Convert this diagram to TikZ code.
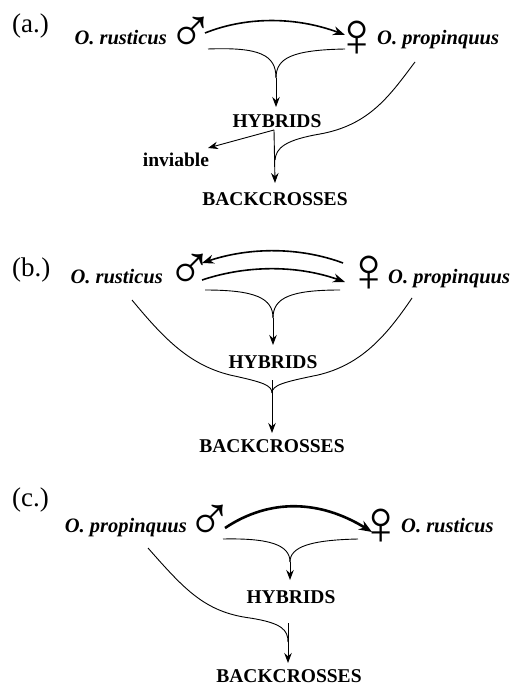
\documentclass[tikz,border=0pt]{standalone}
\usepackage{fontspec}
\setmainfont{Liberation Serif}
\usetikzlibrary{arrows.meta}
\begin{document}
\begin{tikzpicture}[x=1pt,y=-1pt,
  sp/.style={font=\fontsize{20.5}{22}\selectfont\bfseries\itshape, inner sep=0},
  capn/.style={font=\fontsize{19.5}{22}\selectfont\bfseries, inner sep=0, anchor=base},
  lab/.style={font=\fontsize{27}{30}\selectfont, inner sep=0, anchor=base west},
  sx/.style={font=\fontsize{63}{65}\selectfont, inner sep=0, anchor=center},
  ln/.style={line width=0.9pt},
  arr/.style={ln,-{Stealth[length=10pt,width=7.5pt]}},
  harr/.style={line width=1.6pt,-{Stealth[length=12pt,width=9pt]}},
  tarr/.style={line width=2.6pt,-{Stealth[length=13pt,width=10pt]}}
]
\useasboundingbox (0,0) rectangle (511,695);
% ---------- (a.) ----------
\node[lab] (la) at (12,33) {(a.)};
\node[sp, anchor=base east] (ra) at (167,45) {O. rusticus};
\node[sx] (ma) at (191,35) {♂};
\node[sx] (fa) at (357,39) {♀};
\node[sp, anchor=base west] (pa) at (377,45) {O. propinquus};
\node[capn] (ha) at (277,128) {HYBRIDS};
\node[capn] (ia) at (176,166) {inviable};
\node[capn] (ba) at (275,205) {BACKCROSSES};
\coordinate (a1) at (205,33);
\coordinate (a2) at (345,35);
\coordinate (a3) at (208,49);
\coordinate (a4) at (345,49);
\coordinate (aj) at (276,78);
\coordinate (ah) at (276,107);
\coordinate (as) at (274,130);
\coordinate (ai) at (208,148);
\coordinate (ab) at (275,183);
\coordinate (ar) at (415,62);
\coordinate (ak) at (275,160);
\draw[harr] (a1) .. controls (250,15) and (300,18) .. (a2);
\draw[ln] (a3) .. controls (260,47) and (276,55) .. (aj);
\draw[ln] (a4) .. controls (292,50) and (276,58) .. (aj);
\draw[arr] (aj) -- (ah);
\draw[arr] (as) -- (ai);
\draw[arr] (as) -- (ab);
\draw[ln] (ar) .. controls (390,95) and (370,125) .. (320,134) .. controls (285,140) and (276,148) .. (ak);
% ---------- (b.) ----------
\node[lab] (lb) at (12,276) {(b.)};
\node[sp, anchor=base east] (rb) at (163,283) {O. rusticus};
\node[sx] (mb) at (190,272) {♂};
\node[sx] (fb) at (369,274) {♀};
\node[sp, anchor=base west] (pb) at (388,283) {O. propinquus};
\node[capn] (hb) at (273,368) {HYBRIDS};
\node[capn] (bb) at (272,452) {BACKCROSSES};
\coordinate (b1) at (343,263);
\coordinate (b2) at (202,263);
\coordinate (b3) at (202,280);
\coordinate (b4) at (345,282);
\coordinate (b5) at (205,290);
\coordinate (b6) at (340,290);
\coordinate (bj) at (273,318);
\coordinate (bh) at (273,345);
\coordinate (bl) at (132,300);
\coordinate (br) at (412,298);
\coordinate (bt) at (272,380);
\coordinate (bk) at (272,393);
\coordinate (bb2) at (272,433);
\draw[harr] (b1) .. controls (300,247) and (250,247) .. (b2);
\draw[harr] (b3) .. controls (250,264) and (300,266) .. (b4);
\draw[ln] (b5) .. controls (255,290) and (273,298) .. (bj);
\draw[ln] (b6) .. controls (290,290) and (273,298) .. (bj);
\draw[arr] (bj) -- (bh);
\draw[ln] (bl) .. controls (165,340) and (190,365) .. (230,375) .. controls (262,382) and (272,385) .. (bk);
\draw[ln] (br) .. controls (385,338) and (360,365) .. (318,375) .. controls (284,382) and (272,385) .. (bk);
\draw[ln] (bt) -- (bk);
\draw[arr] (bk) -- (bb2);
% ---------- (c.) ----------
\node[lab] (lc) at (12,506) {(c.)};
\node[sp, anchor=base east] (pc) at (187,532) {O. propinquus};
\node[sx] (mc) at (210,523) {♂};
\node[sx] (fc) at (381,527) {♀};
\node[sp, anchor=base west] (rc) at (401,532) {O. rusticus};
\node[capn] (hc) at (291,603) {HYBRIDS};
\node[capn] (bc) at (289,682) {BACKCROSSES};
\coordinate (c1) at (225,528);
\coordinate (c2) at (372,532);
\coordinate (c3) at (223,539);
\coordinate (c4) at (358,539);
\coordinate (cj) at (290,562);
\coordinate (ch) at (290,580);
\coordinate (cl) at (148,548);
\coordinate (ct) at (288,623);
\coordinate (ck) at (288,642);
\coordinate (cb) at (288,663);
\draw[tarr] (c1) .. controls (270,498) and (320,500) .. (c2);
\draw[ln] (c3) .. controls (270,538) and (290,545) .. (cj);
\draw[ln] (c4) .. controls (310,540) and (290,547) .. (cj);
\draw[arr] (cj) -- (ch);
\draw[ln] (cl) .. controls (185,590) and (205,612) .. (250,618) .. controls (282,623) and (288,630) .. (ck);
\draw[ln] (ct) -- (ck);
\draw[arr] (ck) -- (cb);
\end{tikzpicture}
\end{document}
